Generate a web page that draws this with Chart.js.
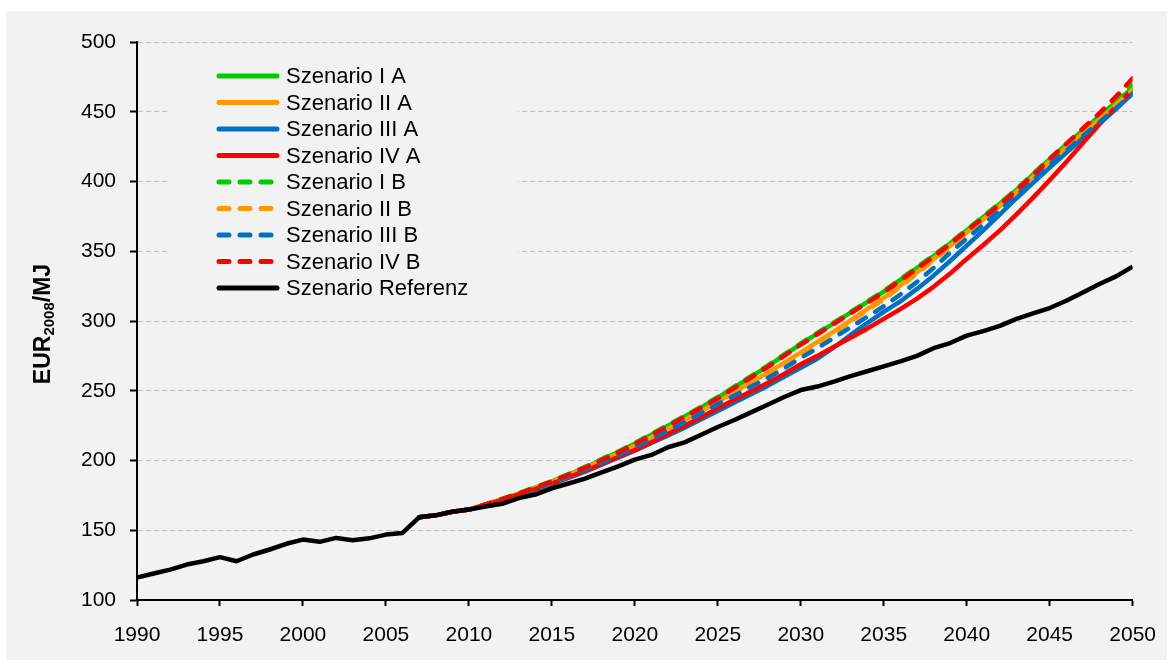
<!DOCTYPE html>
<html><head><meta charset="utf-8">
<script src="https://cdn.jsdelivr.net/npm/chart.js@4.4.0/dist/chart.umd.min.js"></script>
<style>
html,body{margin:0;padding:0;background:#fff;}
#panel{position:absolute;left:6px;top:11px;width:1161px;height:649px;background:#f2f2f2;}
#wrap{position:absolute;left:0;top:0;width:1173px;height:666px;}
</style></head><body>
<div id="panel"></div>
<div id="wrap"><canvas id="c" width="1173" height="666"></canvas></div>
<script>
const refYears = [1990,1991,1992,1993,1994,1995,1996,1997,1998,1999,2000,2001,2002,2003,2004,2005,2006,2007,2008,2009,2010,2011,2012,2013,2014,2015,2016,2017,2018,2019,2020,2021,2022,2023,2024,2025,2026,2027,2028,2029,2030,2031,2032,2033,2034,2035,2036,2037,2038,2039,2040,2041,2042,2043,2044,2045,2046,2047,2048,2049,2050];
const referenz = [116,119,121.8,125.4,127.8,130.7,127.8,132.6,136.2,140.3,143.3,141.7,144.5,142.8,144.2,146.9,148.1,159.3,160.7,163.3,164.8,167,169,173,175.6,180,183.5,187,191.5,195.8,200.6,204,209.5,213,218.5,224,229,234.5,240,245.5,250.5,253,256.5,260.5,264,267.5,271,275,280.5,284.2,289.5,292.8,296.5,301.5,305.5,309.3,314.5,320.5,326.5,332,339];

const scenYears = [2007,2008,2009,2010,2011,2012,2013,2014,2015,2016,2017,2018,2019,2020,2021,2022,2023,2024,2025,2026,2027,2028,2029,2030,2031,2032,2033,2034,2035,2036,2037,2038,2039,2040,2041,2042,2043,2044,2045,2046,2047,2048,2049,2050];
const sIA   = [159.3,160.7,163.3,164.8,168.5,172.3,176.3,180.5,185,190,195,200.5,206,212,218.5,225,231.5,238,245,252.5,260,267.5,275.5,283.5,291,298.5,306,313.5,321,329.5,338,346.5,355.5,365,374.5,384,394,405,416,426.5,436.5,447,457,467];
const sIIA  = [159.3,160.7,163.3,164.8,168.5,172.3,176.3,180.3,184.5,189.3,194.5,199.7,205,210.5,216.5,222.7,229,235.5,242,249,256,263,270,277.5,285,292.5,300.5,308.5,316.5,325.5,335,344.5,354,363.5,373,382.5,392.5,403.5,414.5,424.5,434.5,444.5,454.5,465];
const sIIIA = [159.3,160.7,163.3,164.8,168,171.5,175,179,183,187.5,192,197,202,207,212.5,218,223.5,229.5,235.5,241.5,247.5,253.5,260,266.5,273,281,290,298.5,306.5,314,323,332.5,343,354,365,376.5,388,399,410,420.5,431,441.5,452,463];
const sIVA  = [159.3,160.7,163.3,164.8,168,171.5,175.5,179.5,183.5,188,192.5,197.5,202.5,207.5,213,219,225,231,237.5,243.5,249.5,255.5,262,269,275,281.5,288,294.5,301.5,308.5,316,324.5,334,344.5,354.5,365,376.5,388.5,401,414,427.5,441,454,466];
const sIB   = [159.3,160.7,163.3,164.8,168.5,172.5,176.5,180.8,185.3,190.3,195.5,201,206.5,212.5,219,225.5,232,238.5,245.5,253,260.5,268,276,284,291.5,299,306.5,314,321.5,330,338.5,347,356,365.5,375,384.5,394.5,405.5,416.5,427,437.5,448,458.5,469];
const sIIB  = [159.3,160.7,163.3,164.8,168.3,172,176,180,184,188.8,193.8,199,204.3,209.8,215.7,221.8,228,234.5,241,248,255,262,269,276.5,284,291.5,299.5,307.5,315.5,324.5,334,343.5,353,362.5,372,381.5,391.5,402.5,413.5,423.5,434,444.5,455,466];
const sIIIB = [159.3,160.7,163.3,164.8,168.2,172,176,179.8,184,188.7,193.5,198.7,203.8,209.5,215.5,221.5,227.5,234,240.5,246.5,253,259,266,273.5,280.5,288,295.5,303,310.5,319,328,338,349,359,369,379.5,390,401,412,422,432.5,442.5,452.5,463];
const sIVB  = [159.3,160.7,163.3,164.8,168.5,172.3,176.3,180.5,185,189.8,194.8,200.3,205.8,211.8,218.2,224.7,231.2,237.7,244.5,252,259.5,267,275,283,290.5,298,305.5,313,320.5,329,337.5,346,355,364.5,374,383.5,393.5,404.5,416,427,438,449,461,474];

const seriesLabels = ['Szenario I A','Szenario II A','Szenario III A','Szenario IV A','Szenario I B','Szenario II B','Szenario III B','Szenario IV B','Szenario Referenz'];
const xTicks = [1990,1995,2000,2005,2010,2015,2020,2025,2030,2035,2040,2045,2050];
const yTicks = [100,150,200,250,300,350,400,450,500];
const axisTitle = ['EUR','2008','/MJ'];

const GREEN='#00cc00', ORANGE='#ff9900', BLUE='#0070c0', RED='#ff0000', BLACK='#000000';
const DASH=[10,11];

function pts(years, vals){ return vals.map((v,i)=>({x:years[i], y:v})); }
function ds(label, years, vals, color, dash, order){
  return {label, data: pts(years, vals), borderColor: color, backgroundColor: color,
    borderWidth: 4.5, borderDash: dash, borderCapStyle: dash.length ? 'round' : 'butt',
    borderJoinStyle: 'round', pointRadius: 0, pointHoverRadius: 0, tension: 0, fill: false, order};
}

const datasets = [
  ds(seriesLabels[0], scenYears, sIA, GREEN, [], 8),
  ds(seriesLabels[1], scenYears, sIIA, ORANGE, [], 7),
  ds(seriesLabels[2], scenYears, sIIIA, BLUE, [], 6),
  ds(seriesLabels[3], scenYears, sIVA, RED, [], 5),
  ds(seriesLabels[4], scenYears, sIB, GREEN, DASH, 4),
  ds(seriesLabels[5], scenYears, sIIB, ORANGE, DASH, 3),
  ds(seriesLabels[6], scenYears, sIIIB, BLUE, DASH, 2),
  ds(seriesLabels[7], scenYears, sIVB, RED, DASH, 1),
  ds(seriesLabels[8], refYears, referenz, BLACK, [], 0)
];

const FONT = '"Liberation Sans", Arial, sans-serif';

const legendPlugin = {
  id: 'customLegend',
  beforeDatasetsDraw(chart){
    const ctx = chart.ctx;
    ctx.save(); ctx.fillStyle = '#f2f2f2'; ctx.fillRect(168, 54, 350, 252); ctx.restore();
  },
  afterDraw(chart){
    const ctx = chart.ctx;
    chart.data.datasets.forEach((d, i) => {
      const y = 76 + i * 26.5;
      ctx.save();
      ctx.strokeStyle = d.borderColor; ctx.lineWidth = 5;
      ctx.lineCap = 'round';
      ctx.setLineDash(d.borderDash || []);
      ctx.beginPath(); ctx.moveTo(219, y); ctx.lineTo(277, y); ctx.stroke();
      ctx.setLineDash([]);
      ctx.fillStyle = '#000'; ctx.font = '22px ' + FONT; ctx.textBaseline = 'middle'; ctx.textAlign = 'left';
      ctx.fillText(d.label, 286, y + 1);
      ctx.restore();
    });
  }
};

const titlePlugin = {
  id: 'yTitle',
  afterDraw(chart){
    const ctx = chart.ctx;
    ctx.save();
    ctx.translate(44, 324); ctx.rotate(-Math.PI/2);
    const big = 'bold 23px ' + FONT, small = 'bold 15px ' + FONT;
    ctx.font = big; const w1 = ctx.measureText(axisTitle[0]).width, w3 = ctx.measureText(axisTitle[2]).width;
    ctx.font = small; const w2 = ctx.measureText(axisTitle[1]).width;
    let x = -(w1 + w2 + w3) / 2;
    ctx.fillStyle = '#000'; ctx.textBaseline = 'alphabetic'; ctx.textAlign = 'left';
    ctx.font = big; ctx.fillText(axisTitle[0], x, 5.5); x += w1;
    ctx.font = small; ctx.fillText(axisTitle[1], x, 9.5); x += w2;
    ctx.font = big; ctx.fillText(axisTitle[2], x, 5.5);
    ctx.restore();
  }
};

new Chart(document.getElementById('c'), {
  type: 'line',
  data: { datasets },
  options: {
    responsive: false, animation: false, devicePixelRatio: 1,
    layout: { padding: { left: 0, top: 42, right: 40, bottom: 0 } },
    plugins: { legend: { display: false }, tooltip: { enabled: false } },
    events: [],
    scales: {
      x: {
        type: 'linear', min: xTicks[0], max: xTicks[xTicks.length-1],
        afterBuildTicks: (s) => { s.ticks = xTicks.map(v => ({value: v})); },
        afterFit: (s) => { s.height = 66; },
        ticks: { color: '#000', font: { family: FONT, size: 21 }, padding: 17, maxRotation: 0, autoSkip: false,
          callback: (v) => String(v) },
        grid: { drawOnChartArea: false, drawTicks: true, tickLength: 6, tickColor: '#000', tickWidth: 2 },
        border: { display: true, color: '#000', width: 2 }
      },
      y: {
        type: 'linear', min: yTicks[0], max: yTicks[yTicks.length-1],
        afterBuildTicks: (s) => { s.ticks = yTicks.map(v => ({value: v})); },
        afterFit: (s) => { s.width = 137; },
        ticks: { color: '#000', font: { family: FONT, size: 21 }, padding: 14, autoSkip: false,
          callback: (v) => String(v) },
        grid: { color: '#c0c0c0', lineWidth: 1, drawTicks: true, tickLength: 7, tickColor: '#000', tickWidth: 2 },
        border: { display: true, color: '#000', width: 2, dash: [5, 3] }
      }
    }
  },
  plugins: [legendPlugin, titlePlugin]
});
</script>
</body></html>
